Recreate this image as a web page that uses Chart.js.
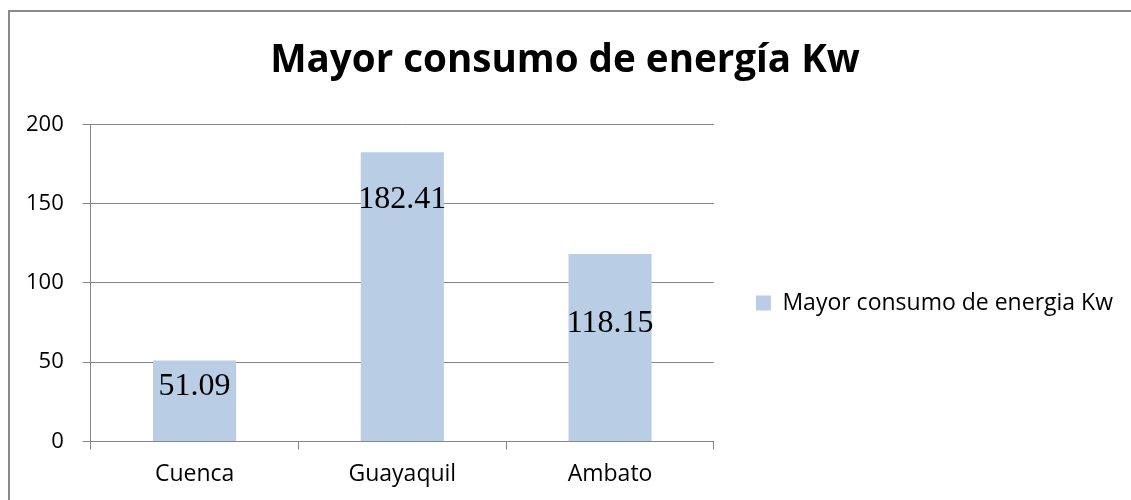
<!DOCTYPE html>
<html>
<head>
<meta charset="utf-8">
<script src="https://cdn.jsdelivr.net/npm/chart.js@4/dist/chart.umd.min.js"></script>
<style>
  body { margin: 0; background: #fff; }
  #frame {
    position: absolute; left: 8px; top: 10px; width: 1200px; height: 600px;
    border-left: 2px solid #8a8a8a; border-top: 2px solid #8a8a8a;
  }
  #wrap { position: absolute; left: 0; top: 0; width: 1131px; height: 500px; }
</style>
</head>
<body>
<div id="frame"></div>
<div id="wrap"><canvas id="chart"></canvas></div>
<script>
// datos del grafico
const ciudades = ['Cuenca', 'Guayaquil', 'Ambato'];
const consumo = [51.09, 182.41, 118.15];
const ticksY = [0, 50, 100, 150, 200];
const serieNombre = 'Mayor consumo de energia Kw';
const titulo = 'Mayor consumo de energía Kw';

// etiquetas de valor dentro de las barras
const etiquetasValor = {
    id: 'etiquetasValor',
    afterDatasetsDraw(chart, args, opts) {
        const ctx = chart.ctx;
        const meta = chart.getDatasetMeta(0);
        ctx.save();
        ctx.font = opts.font;
        ctx.fillStyle = '#000';
        ctx.textAlign = 'center';
        ctx.textBaseline = 'middle';
        meta.data.forEach(function (bar, i) {
            ctx.fillText(consumo[i].toFixed(2), bar.x, bar.y + opts.offsets[i]);
        });
        ctx.restore();
    }
};

const ctx = document.getElementById('chart').getContext('2d');
const grafico = new Chart(ctx, {
    type: 'bar',
    data: {
        labels: ciudades,
        datasets: [{
            label: serieNombre,
            data: consumo,
            backgroundColor: '#b9cde5',
            barPercentage: 0.4,
            categoryPercentage: 1
        }]
    },
    plugins: [etiquetasValor],
    options: {
        responsive: true,
        maintainAspectRatio: false,
        animation: false,
        layout: { padding: { left: 7, right: 8, top: 0, bottom: 0 } },
        plugins: {
            title: {
                display: true,
                text: titulo,
                color: '#000',
                font: { family: 'Open Sans', size: 38.6, weight: 'bold' },
                padding: { top: 38, bottom: 40 }
            },
            legend: {
                position: 'right',
                maxWidth: 700,
                // titulo vacio solo para bajar la leyenda
                title: { display: true, text: ' ', font: { size: 10 }, padding: { top: 94, bottom: 0 } },
                labels: {
                    color: '#000',
                    font: { family: 'Open Sans', size: 23 },
                    boxWidth: 15,
                    boxHeight: 15,
                    padding: 42
                }
            },
            tooltip: { enabled: false },
            etiquetasValor: {
                font: '32px "Liberation Serif"',
                offsets: [26, 47.5, 70]
            }
        },
        scales: {
            x: {
                grid: { drawOnChartArea: false, color: '#868686', tickLength: 8 },
                border: { color: '#868686' },
                ticks: { color: '#000', font: { family: 'Open Sans', size: 23 }, padding: 11.5 }
            },
            y: {
                min: 0,
                max: 200,
                afterBuildTicks: function (axis) {
                    axis.ticks = ticksY.map(function (v) { return { value: v }; });
                },
                grid: { color: '#868686', tickLength: 8 },
                border: { color: '#868686' },
                ticks: { color: '#000', font: { family: 'Open Sans', size: 22 }, padding: 19 }
            }
        }
    }
});
</script>
</body>
</html>
